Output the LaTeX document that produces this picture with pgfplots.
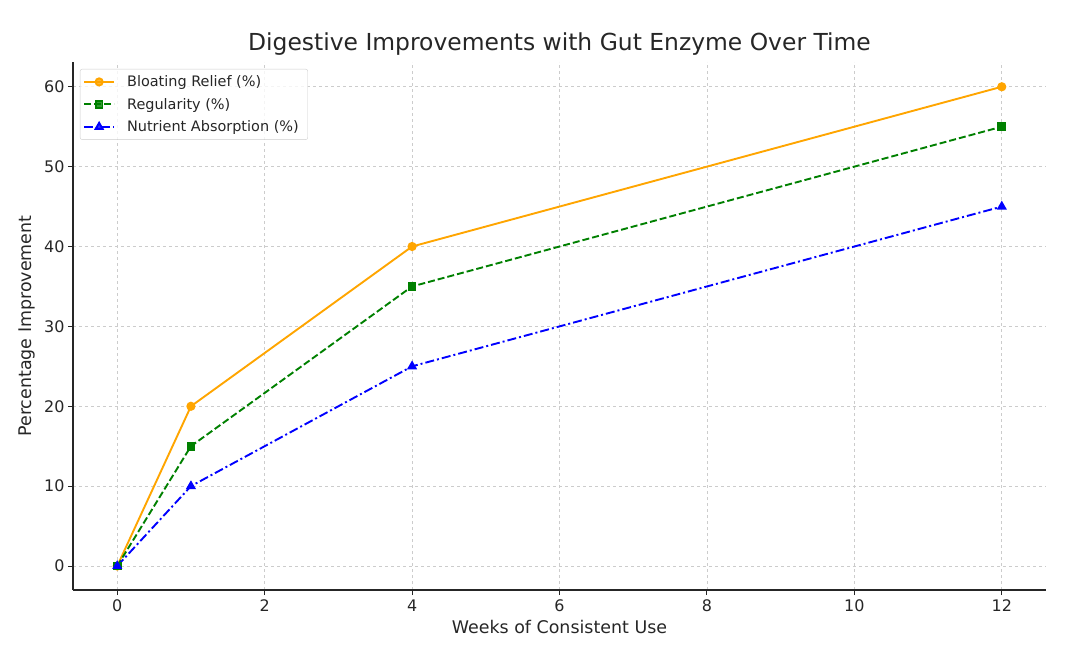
\documentclass[border=0pt]{standalone}
\usepackage{fontspec}
\setmainfont{DejaVu Sans}
\usepackage{pgfplots}
\pgfplotsset{compat=1.18}
\usetikzlibrary{calc}

\definecolor{cOrange}{RGB}{255,165,0}
\definecolor{cGreen}{RGB}{0,128,0}
\definecolor{cBlue}{RGB}{0,0,255}
\definecolor{cGrid}{RGB}{204,204,204}
\definecolor{cText}{RGB}{38,38,38}

\begin{document}
\begin{tikzpicture}[x=1bp,y=1bp]
\begin{axis}[
  name=ax,
  scale only axis,
  width=973bp, height=528bp,
  xmin=-0.6, xmax=12.6,
  ymin=-3, ymax=63.1,
  axis x line*=bottom,
  axis y line*=left,
  axis line style={line width=1.1bp, color=cText},
  xtick={0,2,...,12},
  ytick={0,10,...,60},
  tick align=outside,
  major tick length=5bp,
  tick style={line width=1bp, color=cText},
  grid=major,
  grid style={dash pattern=on 3bp off 3bp, color=cGrid, line width=0.8bp},
  /pgf/number format/assume math mode=true,
  ticklabel style={font=\fontsize{16}{18}\selectfont, color=cText},
  xticklabel style={yshift=-1bp},
  title={Digestive Improvements with Gut Enzyme Over Time},
  title style={font=\fontsize{23.5}{26}\selectfont, color=cText, at={(0.5,1)}, anchor=base, yshift=6bp},
  xlabel={Weeks of Consistent Use},
  ylabel={Percentage Improvement},
  label style={font=\fontsize{17.5}{20}\selectfont, color=cText},
  xlabel style={at={(0.5,0)}, anchor=base, yshift=-43bp},
  ylabel style={at={(0,0.5)}, anchor=base, yshift=41bp},
  legend style={
    at={(0,1)}, anchor=north west, xshift=7bp, yshift=-7bp,
    font=\fontsize{14.5}{16}\selectfont, text=cText,
    draw=cGrid, rounded corners=2bp, fill=white, fill opacity=0.8, text opacity=1,
    row sep=6bp, column sep=6bp, inner xsep=3bp, inner ysep=4.5bp,
    cells={anchor=west},
    nodes={inner xsep=6bp},
  },
  legend image code/.code={%
    \draw[mark repeat=2,mark phase=2] plot coordinates {(0bp,0bp) (15bp,0bp) (30bp,0bp)};},
  every axis plot/.append style={line width=1.9bp},
]
\addplot[color=cOrange, mark=*, mark size=3.6bp, mark options={solid}]
  coordinates {(0,0) (1,20) (4,40) (12,60)};
\addlegendentry{Bloating Relief (\%)}
\addplot[color=cGreen, dash pattern=on 7bp off 3bp, mark=square*, mark size=3.4bp, mark options={solid}]
  coordinates {(0,0) (1,15) (4,35) (12,55)};
\addlegendentry{Regularity (\%)}
\addplot[color=cBlue, dash pattern=on 9bp off 3bp on 2bp off 3bp, mark=triangle*, mark size=4bp, mark options={solid}]
  coordinates {(0,0) (1,10) (4,25) (12,45)};
\addlegendentry{Nutrient Absorption (\%)}
\end{axis}
\useasboundingbox ($(ax.south west)+(-73bp,-62bp)$) rectangle ++(1082bp,652bp);
\end{tikzpicture}
\end{document}
